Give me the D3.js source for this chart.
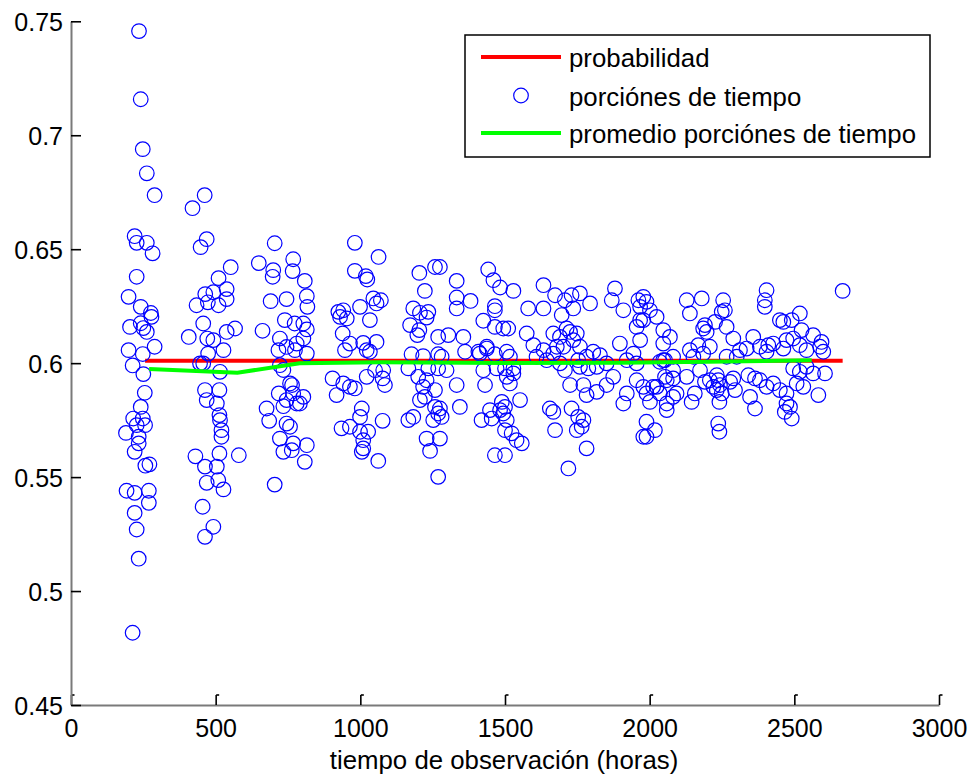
<!DOCTYPE html>
<html><head><meta charset="utf-8">
<script src="https://cdn.jsdelivr.net/npm/d3@7/dist/d3.min.js"></script>
<style>body{margin:0;background:#fff}svg{display:block}text{font-family:"Liberation Sans",Arial,sans-serif}</style>
</head><body><svg id="c" width="970" height="776"></svg>
<script>
// ---- data ----
const xTicks = [0,500,1000,1500,2000,2500,3000];
const yTicks = [0.45,0.5,0.55,0.6,0.65,0.7,0.75];
const yTickLabels = ["0.45","0.5","0.55","0.6","0.65","0.7","0.75"];
const legendLabels = ["probabilidad","porciónes de tiempo","promedio porciónes de tiempo"];
const xLabel = "tiempo de observación (horas)";
const probX = [256, 2667];
const probY = [0.601, 0.601];
const avgX = [270, 575, 790, 1070, 1500, 1900, 2200, 2560];
const avgY = [0.5974, 0.5958, 0.6000, 0.6004, 0.6001, 0.6002, 0.6006, 0.6013];
const obsHours = [
235,241,248,262,289,220,227,262,282,227,199,241,276,204,241,250,262,278,199,248,289,213,250,255,241,215,248,227,256,190,234,234,220,257,271,192,220,269,269,220,227,234,213,
420,462,469,448,552,510,538,464,492,538,434,473,510,457,407,471,492,527,538,567,474,457,515,446,463,513,469,504,513,515,520,520,430,513,580,463,504,469,509,527,455,492,463,
649,699,697,768,766,690,745,704,808,815,817,739,773,803,815,780,803,815,662,722,745,774,717,722,734,764,718,745,780,734,676,685,745,722,734,763,704,757,803,768,791,757,768,815,808,
981,1063,981,1019,1024,924,941,953,930,999,1045,1056,1033,939,947,964,1010,1022,1056,1033,904,918,941,964,981,1022,1051,1077,1005,999,935,964,999,1027,1010,1077,1010,1005,1062,1071,1079,1085,
1204,1258,1275,1333,1223,1333,1381,1333,1183,1206,1235,1229,1172,1197,1204,1269,1304,1356,1177,1217,1269,1281,1362,1413,1437,1166,1200,1235,1269,1298,1229,1217,1258,1333,1206,1223,1258,1269,1275,1344,1166,1183,1252,1281,1229,1275,1241,1269,
1442,1460,1483,1529,1465,1465,1425,1465,1511,1494,1408,1437,1465,1506,1517,1425,1471,1500,1529,1506,1517,1529,1431,1489,1500,1483,1552,1448,1419,1454,1494,1506,1500,1523,1540,1558,1465,1500,
1575,1598,1633,1609,1644,1667,1580,1633,1633,1673,1707,1730,1759,1794,1696,1736,1713,1725,1748,1667,1690,1702,1679,1736,1759,1753,1782,1805,1828,1690,1707,1759,1788,1817,1851,1725,1771,1782,1817,1851,1874,1655,1667,1730,1753,1771,1765,1748,1673,1782,1719,
1880,1869,1909,1897,1944,1921,1955,1921,1909,1955,1978,1989,2024,2059,1961,1978,1989,1967,1967,1955,1967,2024,2047,2070,2047,2047,2081,2081,1989,1989,2018,1978,2059,2081,2059,
2001,1978,2128,2180,2139,2254,2260,2249,2191,2197,2185,2226,2266,2289,2139,2168,2208,2035,2053,2151,2185,2266,2312,2301,2012,2035,2001,2053,2081,2128,2093,2145,2156,2191,2174,2232,2237,2243,2232,2249,2241,2208,2220,2237,2241,2289,2295,2278,2341,2364,2347,2364,2335,2358,
2398,2404,2398,2450,2462,2491,2519,2525,2381,2410,2427,2404,2462,2473,2496,2519,2542,2565,2589,2600,2594,2496,2519,2542,2565,2606,2381,2404,2427,2450,2473,2508,2531,2473,2485,2467,2491,2583,2667
];
const portions = [
.7457,.7158,.6939,.6833,.6737,.6557,.6528,.6528,.6482,.6379,.6291,.6247,.622,.6159,.6175,.6154,.6137,.6203,.6057,.604,.6072,.599,.5952,.587,.5808,.5757,.5757,.5728,.5728,.5694,.5677,.5648,.5611,.555,.5556,.544,.5431,.544,.5387,.5343,.527,.5142,.4817,
.668,.6737,.6544,.6509,.6421,.6373,.6325,.6303,.6311,.6281,.6254,.6267,.6254,.6174,.6115,.6108,.6101,.6057,.6137,.6152,.6042,.5999,.5962,.5999,.5882,.5882,.5838,.5823,.5772,.575,.5706,.5677,.5591,.5604,.5596,.5546,.5546,.5475,.5487,.5446,.537,.5282,.5238,
.6439,.6408,.6379,.6456,.6404,.6272,.6281,.6526,.6361,.6294,.6247,.6189,.6174,.6174,.6148,.6086,.6108,.6042,.6142,.6108,.6071,.6057,.6057,.5991,.597,.5904,.5867,.5838,.5823,.5811,.5801,.5747,.5735,.5669,.5611,.5618,.5467,.5911,.5852,.5867,.5823,.5721,.5648,.564,.5567,
.6528,.6466,.6405,.6382,.6367,.6225,.6232,.6196,.6203,.6247,.6284,.6262,.6189,.613,.6057,.6086,.6089,.6057,.6093,.605,.5933,.586,.5911,.5896,.5889,.594,.5969,.5933,.5801,.5764,.5714,.5721,.5699,.5699,.5662,.5747,.5626,.5611,.5571,.6276,.5969,.5904,
.6396,.6422,.6422,.6361,.6317,.6288,.6273,.624,.624,.6221,.6225,.62,.6167,.6123,.6145,.6115,.6123,.6115,.6039,.6031,.6039,.6028,.605,.6042,.6064,.5977,.594,.5977,.5977,.5969,.5925,.5896,.5882,.5904,.5838,.5852,.5808,.5779,.5801,.5808,.575,.5764,.575,.5764,.5669,.5669,.5615,.5501,
.6411,.6364,.6332,.6317,.625,.6232,.6186,.6159,.6152,.6152,.605,.6072,.6039,.605,.6028,.5969,.5977,.5977,.5977,.594,.5911,.5955,.5904,.583,.5808,.5794,.5838,.5794,.575,.5757,.5779,.575,.5706,.5692,.5662,.5648,.5596,.5596,
.613,.6079,.6057,.6028,.6013,.6042,.624,.624,.6342,.6298,.6276,.6298,.6306,.6262,.6211,.624,.6152,.6137,.613,.613,.6115,.6072,.6072,.6101,.6072,.6013,.6028,.605,.6035,.5999,.5969,.5984,.5977,.5984,.5999,.5904,.5904,.586,.5874,.5904,.594,.5801,.5786,.5801,.5764,.575,.5721,.5706,.5706,.5626,.5538,
.6328,.6276,.6232,.6086,.6042,.6013,.5999,.5867,.5823,.5925,.5896,.5867,.5896,.5925,.6276,.6291,.6269,.6247,.6189,.6159,.6101,.6203,.6145,.6115,.6086,.6013,.6028,.5969,.5743,.5677,.5706,.5677,.5823,.5852,.5794,
.6232,.6189,.6276,.6284,.6218,.6276,.6232,.6225,.6167,.6137,.6152,.6181,.6159,.6108,.6057,.6079,.6072,.6006,.6013,.6028,.6042,.6028,.6057,.6028,.5896,.5867,.583,.594,.5933,.594,.5867,.583,.5867,.5918,.5969,.5947,.5925,.5904,.5882,.5867,.583,.5925,.5896,.5735,.5699,.5933,.5882,.5918,.5947,.5933,.5852,.5801,.6064,.6115,
.6276,.632,.6247,.6189,.6181,.6189,.6218,.6145,.6072,.6079,.6086,.605,.6064,.6101,.6108,.6079,.6057,.6123,.6072,.605,.6093,.5977,.5962,.5984,.5955,.5955,.5925,.5896,.5911,.5882,.5867,.5911,.5896,.5823,.5808,.5786,.5757,.586,.6317
];

// ---- drawing ----
const FS = "25.8px";
const svg = d3.select("#c");
const x = d3.scaleLinear().domain([0,3000]).range([71,939]);
const y = d3.scaleLinear().domain([0.45,0.75]).range([705,21.3]);

// axes
const gx = svg.append("g").attr("transform","translate(0,705)")
  .call(d3.axisBottom(x).tickValues(xTicks).tickFormat(d3.format("d")).tickSizeInner(-10).tickSizeOuter(0).tickPadding(14));
const gy = svg.append("g").attr("transform","translate(71,0)")
  .call(d3.axisLeft(y).tickValues(yTicks).tickFormat((d,i)=>yTickLabels[i]).tickSizeInner(-10).tickSizeOuter(0).tickPadding(8));
[gx,gy].forEach(g=>{
  g.select(".domain").attr("stroke","#7a7a7a").attr("stroke-width",2);
  g.selectAll(".tick line").attr("stroke","#000").attr("stroke-width",1.6);
  g.selectAll(".tick text").attr("fill","#000").style("font-size","25px").style("font-family",'"Liberation Sans",Arial,sans-serif');
});
gy.selectAll(".tick text").attr("dy","0.36em");
gx.selectAll(".tick").append("line").attr("x1",0).attr("x2",3).attr("y1",-10).attr("y2",-10).attr("stroke","#000").attr("stroke-width",1.6);

// probability line
const line = d3.line().x(d=>x(d[0])).y(d=>y(d[1]));
svg.append("path").datum(probX.map((v,i)=>[v,probY[i]]))
  .attr("d",line).attr("fill","none").attr("stroke","#ff0000").attr("stroke-width",4);

// scatter
svg.append("g").selectAll("circle").data(obsHours.map((v,i)=>[v,portions[i]])).join("circle")
  .attr("cx",d=>x(d[0])).attr("cy",d=>y(d[1])).attr("r",7.3)
  .attr("fill","none").attr("stroke","#0000ff").attr("stroke-width",1.2);

// average line
svg.append("path").datum(avgX.map((v,i)=>[v,avgY[i]]))
  .attr("d",line).attr("fill","none").attr("stroke","#00ff00").attr("stroke-width",4);

// x label
svg.append("text").attr("x",504).attr("y",769).attr("text-anchor","middle")
  .style("font-size",FS).text(xLabel);

// legend
const lg = svg.append("g");
lg.append("rect").attr("x",465).attr("y",35).attr("width",465).attr("height",122)
  .attr("fill","#fff").attr("stroke","#000").attr("stroke-width",1.5);
const rows = [57,95.5,133];
lg.append("line").attr("x1",481).attr("x2",561).attr("y1",rows[0]).attr("y2",rows[0]).attr("stroke","#ff0000").attr("stroke-width",4);
lg.append("circle").attr("cx",521).attr("cy",rows[1]).attr("r",7.3).attr("fill","none").attr("stroke","#0000ff").attr("stroke-width",1.2);
lg.append("line").attr("x1",481).attr("x2",561).attr("y1",rows[2]).attr("y2",rows[2]).attr("stroke","#00ff00").attr("stroke-width",4);
lg.selectAll("text.l").data(legendLabels).join("text").attr("class","l")
  .attr("x",569).attr("y",(d,i)=>rows[i]+10).style("font-size",FS).attr("fill","#000").text(d=>d);
</script></body></html>
